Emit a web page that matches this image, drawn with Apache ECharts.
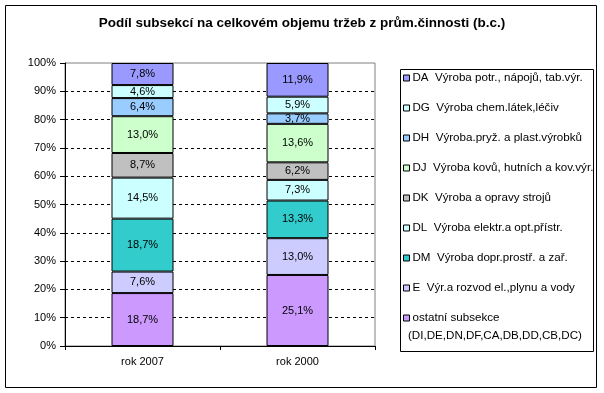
<!DOCTYPE html>
<html>
<head>
<meta charset="utf-8">
<script src="https://cdn.jsdelivr.net/npm/echarts@6/dist/echarts.min.js"></script>
<style>html,body{margin:0;padding:0;background:#fff}#c{width:604px;height:393px}</style>
</head>
<body>
<div id="c"></div>
<script>
var categories = ['rok 2007', 'rok 2000'];
var seriesNames = [
  'ostatní subsekce',
  'E  Výr.a rozvod el.,plynu a vody',
  'DM  Výroba dopr.prostř. a zař.',
  'DL  Výroba elektr.a opt.přístr.',
  'DK  Výroba a opravy strojů',
  'DJ  Výroba kovů, hutních a kov.výr.',
  'DH  Výroba.pryž. a plast.výrobků',
  'DG  Výroba chem.látek,léčiv',
  'DA  Výroba potr., nápojů, tab.výr.'
];
var colors = ['#CC99FF', '#CCCCFF', '#33CCCC', '#CCFFFF', '#C0C0C0', '#CCFFCC', '#99CCFF', '#CCFFFF', '#9999FF'];
var values2007 = [18.7, 7.6, 18.7, 14.5, 8.7, 13.0, 6.4, 4.6, 7.8];
var values2000 = [25.1, 13.0, 13.3, 7.3, 6.2, 13.6, 3.7, 5.9, 11.9];
var extraLegendLine = '(DI,DE,DN,DF,CA,DB,DD,CB,DC)';
var titleText = 'Podíl subsekcí na celkovém objemu tržeb z prům.činnosti (b.c.)';

var FONT = 'Arial, "Liberation Sans", sans-serif';
var chart = echarts.init(document.getElementById('c'));
var series = seriesNames.map(function (name, i) {
  return {
    name: name,
    type: 'bar',
    stack: 'total',
    barWidth: 62,
    data: [values2007[i], values2000[i]],
    itemStyle: { color: colors[i], borderColor: '#000', borderWidth: 1 },
    label: {
      show: true,
      position: 'inside',
      color: '#000',
      fontSize: 11,
      fontFamily: FONT,
      formatter: function (p) { return p.value.toFixed(1).replace('.', ',') + '%'; }
    },
    emphasis: { disabled: true }
  };
});

chart.setOption({
  animation: false,
  backgroundColor: '#fff',
  title: {
    text: titleText,
    left: 'center',
    top: 16,
    padding: 0,
    textStyle: { fontSize: 13.5, fontWeight: 'bold', color: '#000', fontFamily: FONT }
  },
  legend: {
    orient: 'vertical',
    left: 403,
    top: 71,
    padding: 0,
    itemWidth: 6,
    itemHeight: 6,
    itemGap: 16,
    icon: 'rect',
    selectedMode: false,
    data: seriesNames.slice().reverse(),
    itemStyle: { borderColor: '#000', borderWidth: 1 },
    textStyle: { fontSize: 11.6, lineHeight: 14, color: '#000', fontFamily: FONT, padding: [0, 0, 0, -2] }
  },
  grid: {
    left: 65, top: 63, width: 310, height: 283,
    show: true, borderColor: '#808080', borderWidth: 1, backgroundColor: '#fff'
  },
  xAxis: {
    type: 'category',
    data: categories,
    boundaryGap: true,
    axisLine: { lineStyle: { color: '#000' } },
    axisTick: { show: true, length: 4, lineStyle: { color: '#000' } },
    axisLabel: { color: '#000', fontSize: 11, fontFamily: FONT, margin: 10 }
  },
  yAxis: {
    type: 'value',
    min: 0, max: 100, interval: 10,
    axisLine: { show: true, lineStyle: { color: '#000' } },
    axisTick: { show: true, length: 5, lineStyle: { color: '#000' } },
    axisLabel: { color: '#000', fontSize: 11, fontFamily: FONT, margin: 9, formatter: '{value}%' },
    splitLine: { show: true, showMaxLine: false, lineStyle: { color: '#000', type: [3, 3], width: 1 } }
  },
  graphic: [
    { type: 'rect', shape: { x: 5.5, y: 5.5, width: 591, height: 382 }, style: { fill: 'none', stroke: '#000', lineWidth: 1 }, silent: true },
    { type: 'rect', shape: { x: 400.5, y: 69.5, width: 193, height: 282 }, style: { fill: 'none', stroke: '#000', lineWidth: 1 }, silent: true },
    { type: 'text', left: 408, top: 330, style: { text: extraLegendLine, fontSize: 11.6, fontFamily: FONT, fill: '#000' }, silent: true }
  ],
  series: series
});
</script>
</body>
</html>
